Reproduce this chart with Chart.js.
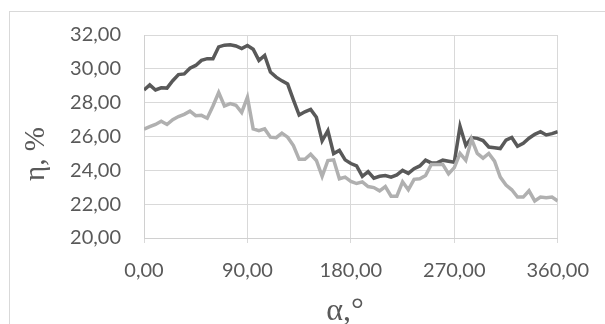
<!DOCTYPE html>
<html>
<head>
<meta charset="utf-8">
<script src="https://cdn.jsdelivr.net/npm/chart.js@4.4.1/dist/chart.umd.min.js"></script>
<style>
  html, body { margin: 0; padding: 0; background: #fff; overflow: hidden; }
  #wrap { position: relative; width: 605px; height: 324px; }
</style>
</head>
<body>
<div id="wrap"><canvas id="chart" width="605" height="324"></canvas></div>
<script>
// angle, degrees (step 5)
const angles = [0, 5, 10, 15, 20, 25, 30, 35, 40, 45, 50, 55, 60, 65, 70, 75, 80, 85, 90,
  95, 100, 105, 110, 115, 120, 125, 130, 135, 140, 145, 150, 155, 160, 165, 170, 175, 180,
  185, 190, 195, 200, 205, 210, 215, 220, 225, 230, 235, 240, 245, 250, 255, 260, 265, 270,
  275, 280, 285, 290, 295, 300, 305, 310, 315, 320, 325, 330, 335, 340, 345, 350, 355, 360];

// efficiency, % (dark line)
const etaDark = [28.75, 29.05, 28.75, 28.88, 28.86, 29.30, 29.66, 29.70, 30.04, 30.20, 30.50, 30.60, 30.60, 31.30, 31.40, 31.42, 31.35, 31.20, 31.38,
  31.16, 30.50, 30.79, 29.81, 29.51, 29.29, 29.10, 28.17, 27.27, 27.46, 27.60, 27.14, 25.74, 26.34, 24.99, 25.18, 24.62, 24.40,
  24.26, 23.65, 23.92, 23.54, 23.65, 23.69, 23.60, 23.73, 24.00, 23.82, 24.10, 24.26, 24.60, 24.44, 24.44, 24.60, 24.54, 24.48,
  26.60, 25.47, 25.94, 25.89, 25.76, 25.38, 25.34, 25.29, 25.79, 25.94, 25.42, 25.60, 25.90, 26.13, 26.28, 26.09, 26.17, 26.28];

// efficiency, % (light line)
const etaLight = [26.43, 26.58, 26.71, 26.90, 26.71, 27.00, 27.18, 27.31, 27.50, 27.23, 27.25, 27.08, 27.80, 28.60, 27.80, 27.94, 27.85, 27.42, 28.32,
  26.45, 26.34, 26.45, 25.96, 25.93, 26.20, 25.96, 25.46, 24.65, 24.65, 24.95, 24.58, 23.64, 24.58, 24.62, 23.50, 23.60, 23.35,
  23.22, 23.32, 23.04, 22.98, 22.79, 23.04, 22.47, 22.47, 23.32, 22.85, 23.47, 23.50, 23.69, 24.35, 24.35, 24.35, 23.79, 24.16,
  25.00, 24.59, 25.85, 25.00, 24.72, 25.00, 24.54, 23.60, 23.13, 22.85, 22.42, 22.42, 22.79, 22.19, 22.42, 22.38, 22.42, 22.19];

const xTicks = [0, 90, 180, 270, 360];
const yTicks = [20, 22, 24, 26, 28, 30, 32];
const xTitle = 'α,°';
const yTitle = 'η, %';

const fmt = v => Number(v).toFixed(2).replace('.', ',');
const tickFont = { family: 'Lato', size: 20 };

// thin frame of the chart area + axis titles
const decor = {
  id: 'decor',
  beforeDraw(chart) {
    const ctx = chart.ctx;
    ctx.save();
    ctx.strokeStyle = '#d9d9d9';
    ctx.lineWidth = 1;
    ctx.strokeRect(9.5, 11.5, 800, 600);
    ctx.restore();
  },
  afterDraw(chart) {
    const ctx = chart.ctx;
    ctx.save();
    ctx.fillStyle = '#595959';
    ctx.textAlign = 'center';
    ctx.textBaseline = 'alphabetic';
    ctx.font = '32px "Liberation Serif"';
    ctx.fillText(xTitle, 345, 320);
    ctx.font = '29px "Liberation Serif"';
    ctx.translate(44, 154);
    ctx.rotate(-Math.PI / 2);
    ctx.fillText(yTitle, 0, 0);
    ctx.restore();
  }
};

new Chart(document.getElementById('chart'), {
  type: 'line',
  data: {
    datasets: [
      {
        label: 'dark',
        data: angles.map((a, i) => ({ x: a, y: etaDark[i] })),
        borderColor: '#595959',
        order: 1
      },
      {
        label: 'light',
        data: angles.map((a, i) => ({ x: a, y: etaLight[i] })),
        borderColor: '#b0b0b0',
        order: 0
      }
    ]
  },
  options: {
    responsive: false,
    animation: false,
    layout: { padding: { top: 25, right: 42, bottom: 0, left: 0 } },
    elements: {
      point: { radius: 0 },
      line: { borderWidth: 3.5, tension: 0, fill: false }
    },
    plugins: { legend: { display: false }, tooltip: { enabled: false } },
    scales: {
      x: {
        type: 'linear',
        min: 0,
        max: 360,
        afterBuildTicks: s => { s.ticks = xTicks.map(v => ({ value: v })); },
        afterFit: s => { s.height = 86; },
        ticks: { callback: fmt, color: '#595959', font: tickFont, padding: 16, maxRotation: 0 },
        grid: { color: '#d9d9d9', tickLength: 5 },
        border: { color: '#d0d0d0' }
      },
      y: {
        min: 20,
        max: 32,
        afterBuildTicks: s => { s.ticks = yTicks.map(v => ({ value: v })); },
        afterFit: s => { s.width = 144; },
        ticks: { callback: fmt, color: '#595959', font: tickFont, padding: 23 },
        grid: { color: '#d9d9d9', drawTicks: false },
        border: { color: '#d0d0d0' }
      }
    }
  },
  plugins: [decor]
});
</script>
</body>
</html>
